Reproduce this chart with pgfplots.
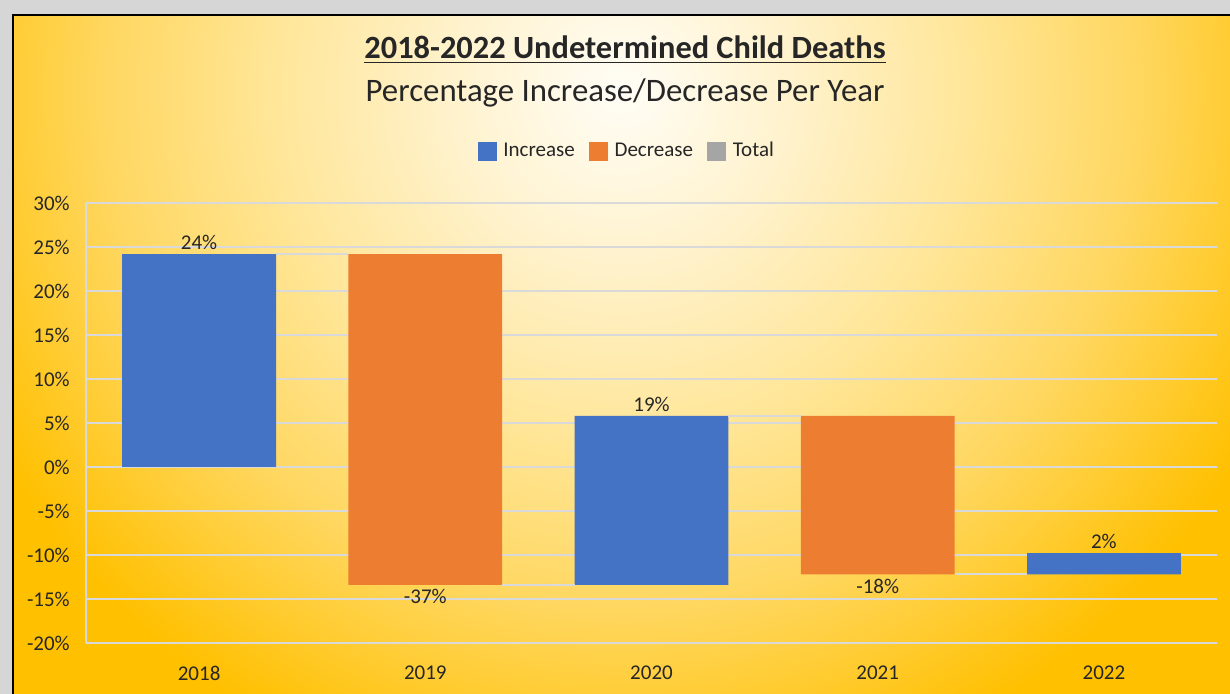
\documentclass[border=0pt]{standalone}
\usepackage{pgfplots}
\pgfplotsset{compat=1.18}
\usepackage{pgfplotstable}
\usepackage{fontspec}
\setmainfont{Carlito}
\definecolor{incblue}{HTML}{4472C4}
\definecolor{decorange}{HTML}{ED7D31}
\definecolor{totgray}{HTML}{A5A5A5}
\definecolor{gridgray}{HTML}{D9D9D9}
\definecolor{txt}{HTML}{262626}
\definecolor{framegray}{HTML}{D6D6D6}
\definecolor{bgA}{HTML}{FFFDF6}
\definecolor{bgB}{HTML}{FFF2CC}
\definecolor{bgC}{HTML}{FFE699}
\definecolor{bgD}{HTML}{FFD760}
\definecolor{bgE}{HTML}{FFC000}
\pgfdeclareradialshading{bgrad}{\pgfpointorigin}{color(0bp)=(bgA); color(3bp)=(bgB); color(6bp)=(bgC); color(9bp)=(bgD); color(12.5bp)=(bgE); color(50bp)=(bgE)}

% waterfall: invisible base + visible increase / decrease segments
\pgfplotstableread{
x base inc dec
0 0 24.2 0
1 -13.4 0 37.6
2 -13.4 19.2 0
3 -12.2 0 18.0
4 -12.2 2.4 0
}\wf

\begin{document}
\begin{tikzpicture}
\useasboundingbox (0,0) rectangle (615pt,347pt);
\fill[framegray] (0,0) rectangle (615pt,347pt);
\begin{scope}
\clip (6.5pt,0) rectangle (615pt,339.5pt);
\shade[shading=bgrad] (310pt,302pt) circle (720pt);
\end{scope}
\draw[black, line width=1pt] (6.5pt,0) -- (6.5pt,339.5pt) -- (615pt,339.5pt);

\node[anchor=base, font=\fontsize{16.2}{19}\selectfont\bfseries, text=txt] at (312.5pt,317.5pt) {\underline{2018-2022 Undetermined Child Deaths}};
\node[anchor=base, font=\fontsize{16.4}{19}\selectfont, text=txt] at (312.5pt,296pt) {Percentage Increase/Decrease Per Year};

\begin{axis}[
  at={(43pt,25.5pt)}, anchor=south west, scale only axis,
  width=565.5pt, height=220pt,
  ybar stacked, stack negative=on previous, bar width=0.68,
  xmin=-0.5, xmax=4.5, ymin=-20, ymax=30,
  xtick={0,1,2,3,4}, xticklabels={2018,2019,2020,2021,2022},
  ytick={-20,-15,...,30},
  yticklabel={\pgfmathprintnumber[assume math mode=true]{\tick}\%},
  major tick length=0pt,
  ymajorgrids, grid style={draw=gridgray, line width=0.9pt},
  axis lines*=left,
  x axis line style={draw=none},
  y axis line style={draw=gridgray, line width=0.9pt, -},
  tick label style={font=\fontsize{10.5}{12}\selectfont, text=txt},
  xticklabel style={yshift=-8pt},
  yticklabel style={xshift=-4.6pt},
  legend style={at={(0.479,1.118)}, anchor=center, draw=none, fill=none,
    legend columns=-1, font=\fontsize{10.5}{12}\selectfont, text=txt,
    /tikz/every odd column/.append style={column sep=1.5pt},
    /tikz/every even column/.append style={column sep=5pt}},
]
% legend entries (images only)
\addlegendimage{legend image code/.code={\fill[incblue] (0pt,-4.5pt) rectangle (9pt,4.5pt);}}
\addlegendentry{Increase}
\addlegendimage{legend image code/.code={\fill[decorange] (0pt,-4.5pt) rectangle (9pt,4.5pt);}}
\addlegendentry{Decrease}
\addlegendimage{legend image code/.code={\fill[totgray] (0pt,-4.5pt) rectangle (9pt,4.5pt);}}
\addlegendentry{Total}
% stacked bars
\addplot[fill=none, draw=none] table[x=x, y=base] {\wf};
\addplot[fill=incblue, draw=none] table[x=x, y=inc] {\wf};
\addplot[fill=decorange, draw=none] table[x=x, y=dec] {\wf};
\end{axis}

\begin{axis}[
  at={(43pt,25.5pt)}, anchor=south west, scale only axis,
  width=565.5pt, height=220pt,
  xmin=-0.5, xmax=4.5, ymin=-20, ymax=30,
  axis lines=none, clip=false,
]
\addplot[gridgray, line width=0.9pt] coordinates {(0.34,24.2) (0.66,24.2)};
\addplot[gridgray, line width=0.9pt] coordinates {(1.34,-13.4) (1.66,-13.4)};
\addplot[gridgray, line width=0.9pt] coordinates {(2.34,5.8) (2.66,5.8)};
\addplot[gridgray, line width=0.9pt] coordinates {(3.34,-12.2) (3.66,-12.2)};
\addplot[draw=none, mark=none, nodes near coords, point meta=explicit symbolic,
  every node near coord/.append style={anchor=south, inner sep=2pt, text=txt, font=\fontsize{10.5}{12}\selectfont}]
  coordinates {(0,24.2)[24\%] (2,5.8)[19\%] (4,-9.8)[2\%]};
\addplot[draw=none, mark=none, nodes near coords, point meta=explicit symbolic,
  every node near coord/.append style={anchor=north, inner sep=2pt, text=txt, font=\fontsize{10.5}{12}\selectfont}]
  coordinates {(1,-13.4)[-37\%] (3,-12.2)[-18\%]};
\end{axis}
\end{tikzpicture}
\end{document}
